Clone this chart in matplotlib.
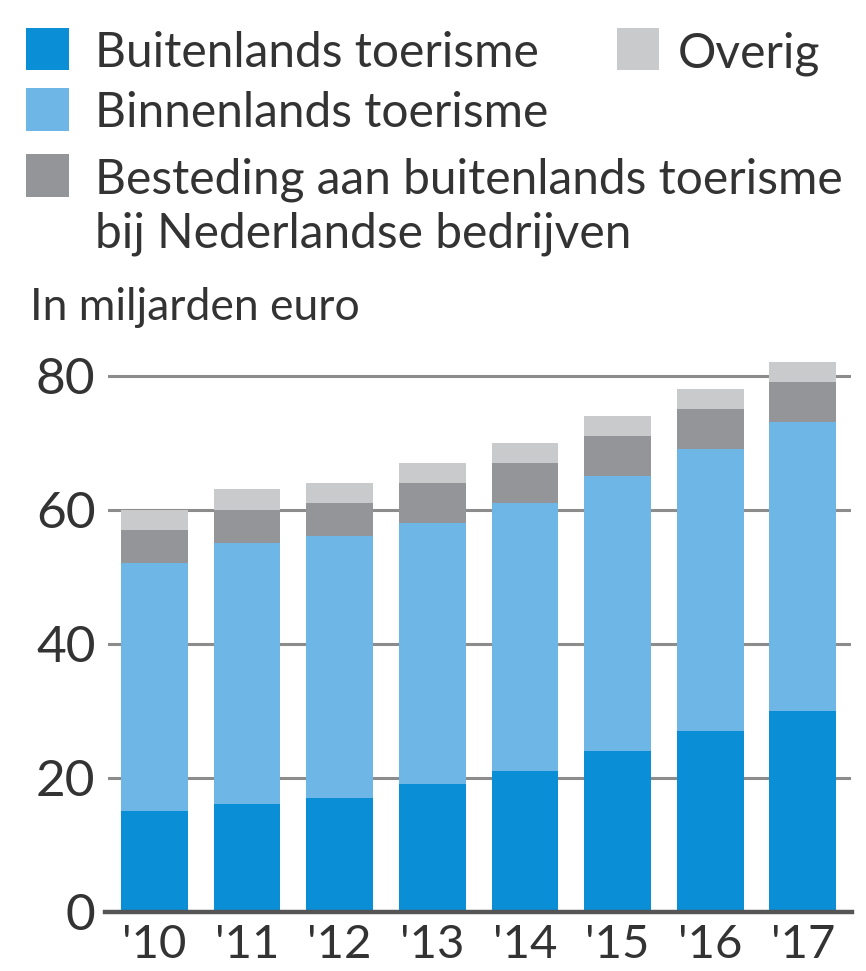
import matplotlib
matplotlib.use("Agg")
import matplotlib.pyplot as plt
from matplotlib.patches import Rectangle
import numpy as np

years = ["'10", "'11", "'12", "'13", "'14", "'15", "'16", "'17"]
buitenlands = [15, 16, 17, 19, 21, 24, 27, 30]
binnenlands = [37, 39, 39, 39, 40, 41, 42, 43]
besteding = [5, 5, 5, 6, 6, 6, 6, 6]
overig = [3, 3, 3, 3, 3, 3, 3, 3]
series_names = ["Buitenlands toerisme", "Binnenlands toerisme",
                "Besteding aan buitenlands toerisme\nbij Nederlandse bedrijven", "Overig"]
yticks = [0, 20, 40, 60, 80]

colors = ["#0a8ed5", "#6db6e6", "#939598", "#c9cacc"]
textc = "#333333"

plt.rcParams['font.family'] = ['Lato', 'DejaVu Sans']

W, H = 866, 971
fig = plt.figure(figsize=(W / 100, H / 100), dpi=100)

def fx(x):
    return x / W

def fy(y):
    return 1 - y / H

ax = fig.add_axes([fx(108), fy(911.5), (851 - 108) / W, (911.5 - 348.7) / H])
x = np.arange(len(years))
series = [buitenlands, binnenlands, besteding, overig]
bottom = np.zeros(len(years))
for vals, c in zip(series, colors):
    ax.bar(x, vals, width=0.72, bottom=bottom, color=c, zorder=2, linewidth=0)
    bottom += np.array(vals)

ax.set_xlim(-0.5, 7.52)
ax.set_ylim(0, 84)
ax.set_yticks(yticks)
ax.set_yticklabels([str(v) for v in yticks])
for v in yticks[1:]:
    ax.axhline(v, color="#8c8c8c", lw=2.2, zorder=1)
ax.axhline(0, xmin=-0.004, xmax=1.002, color="#555555", lw=3.2, zorder=3, clip_on=False)
ax.set_xticks(x)
ax.set_xticklabels(years)
for s in ax.spines.values():
    s.set_visible(False)
ax.tick_params(axis='both', length=0, colors=textc)
ax.tick_params(axis='y', pad=9, labelsize=37)
ax.tick_params(axis='x', pad=9, labelsize=34)

# legend (manual)
def square(x0, y0, x1, y1, c):
    fig.patches.append(Rectangle((fx(x0), fy(y1)), (x1 - x0) / W, (y1 - y0) / H,
                                 transform=fig.transFigure, color=c, lw=0))

lfs = 34.5
square(26, 28, 69, 70, colors[0])
fig.text(fx(95), fy(67), series_names[0], fontsize=lfs, color=textc, va='baseline')
square(617, 28, 659, 70, colors[3])
fig.text(fx(678), fy(67), series_names[3], fontsize=lfs, color=textc, va='baseline')
square(26, 88, 69, 131, colors[1])
fig.text(fx(95), fy(127), series_names[1], fontsize=lfs, color=textc, va='baseline')
square(26, 154, 69, 197, colors[2])
l1, l2 = series_names[2].split("\n")
fig.text(fx(95), fy(194), l1, fontsize=lfs, color=textc, va='baseline')
fig.text(fx(95), fy(247), l2, fontsize=lfs, color=textc, va='baseline')
fig.text(fx(30), fy(320), "In miljarden euro", fontsize=32, color=textc, va='baseline')

fig.savefig("out.png", dpi=100, facecolor="white")
